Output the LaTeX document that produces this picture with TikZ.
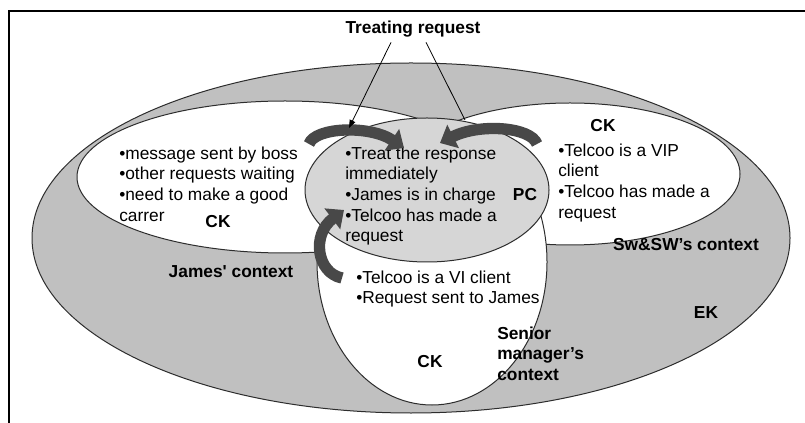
\documentclass[tikz,border=0pt]{standalone}
\usepackage{fontspec}
\setmainfont{Liberation Sans}
\usetikzlibrary{shapes.geometric,arrows.meta,calc}
\definecolor{ekfill}{RGB}{192,192,192}
\definecolor{pcfill}{RGB}{214,214,214}
\definecolor{bandfill}{RGB}{72,72,72}
\definecolor{rim}{RGB}{45,45,45}

\begin{document}
\begin{tikzpicture}[x=0.75pt,y=-0.75pt,
  zone/.style={ellipse, draw=rim, line width=0.75pt, inner sep=0pt, outer sep=0pt},
  body/.style={font=\fontsize{13}{15.5}\selectfont, align=left, anchor=north west, inner sep=0pt},
  tag/.style={font=\fontsize{13}{15.5}\selectfont\bfseries, inner sep=0pt},
  band/.style={draw=bandfill, line width=8.5pt, -{Triangle[length=11pt,width=19pt]}},
  pointer/.style={draw=black, line width=0.6pt},
  frame/.style={draw=black, line width=0.9pt}
]
\useasboundingbox (0,0) rectangle (805,423);
\fill[white] (0,0) rectangle (805,423);

% open frame: top and left edges
\coordinate (frameTR) at (805,11);
\coordinate (frameTL) at (9,11);
\coordinate (frameBL) at (9,423);
\draw[frame] (frameTR) -- (frameTL) -- (frameBL);

% contexts
\node[zone, fill=ekfill, minimum width=568.5pt, minimum height=262.5pt] (ek) at (411,238) {};
\node[zone, fill=white, minimum width=312pt, minimum height=114pt] (james) at (285,177) {};
\node[zone, fill=white, minimum width=255pt, minimum height=106.5pt] (sw) at (570,174) {};
\node[zone, fill=white, minimum width=172.5pt, minimum height=214.5pt] (senior) at (432,262) {};
\node[zone, fill=pcfill, minimum width=183pt, minimum height=108pt] (pc) at (427,190) {};

% texts
\node[body] (jamesText) at (119,144.5) {\strut•message sent by boss\\•other requests waiting\\•need to make a good\\carrer};
\node[tag] (jamesCK) at (218,222) {CK};
\node[tag] (jamesLbl) at (231,272) {James\textquotesingle{} context};

\node[body] (pcText) at (345,144.5) {\strut•Treat the response\\immediately\\•James is in charge\\•Telcoo has made a\\request};
\node[tag] (pcLbl) at (525,195) {PC};

\node[tag] (swCK) at (603,126) {CK};
\node[body] (swText) at (558,141.5) {\strut•Telcoo is a VIP\\client\\•Telcoo has made a\\request};
\node[tag] (swLbl) at (686,245) {Sw\&SW’s context};

\node[body] (seniorText) at (356,268.5) {\strut•Telcoo is a VI client\\•Request sent to James};
\node[tag] (seniorCK) at (430,362) {CK};
\node[tag, align=left, anchor=north west] (seniorLbl) at (497,324.5) {\strut Senior\\manager’s\\context};

\node[tag] (ekLbl) at (706,313) {EK};

% curved block arrows
\draw[band] (309,144) .. controls (315,127) and (370,125) .. (404,148);
\draw[band] (537,144) .. controls (531,127) and (480,123) .. (440,143);
\draw[band] (342,278) .. controls (317,273) and (311,235) .. (344,210);

% title and its pointers
\node[tag] (treat) at (413,29) {Treating request};
\coordinate (hitL) at (349,128);
\coordinate (hitR) at (465,120);
\draw[pointer, -{Triangle[length=6pt,width=4.5pt]}] ($(treat.south)+(-22,5)$) -- (hitL);
\draw[pointer] ($(treat.south)+(13,5)$) -- (hitR);
\end{tikzpicture}
\end{document}
